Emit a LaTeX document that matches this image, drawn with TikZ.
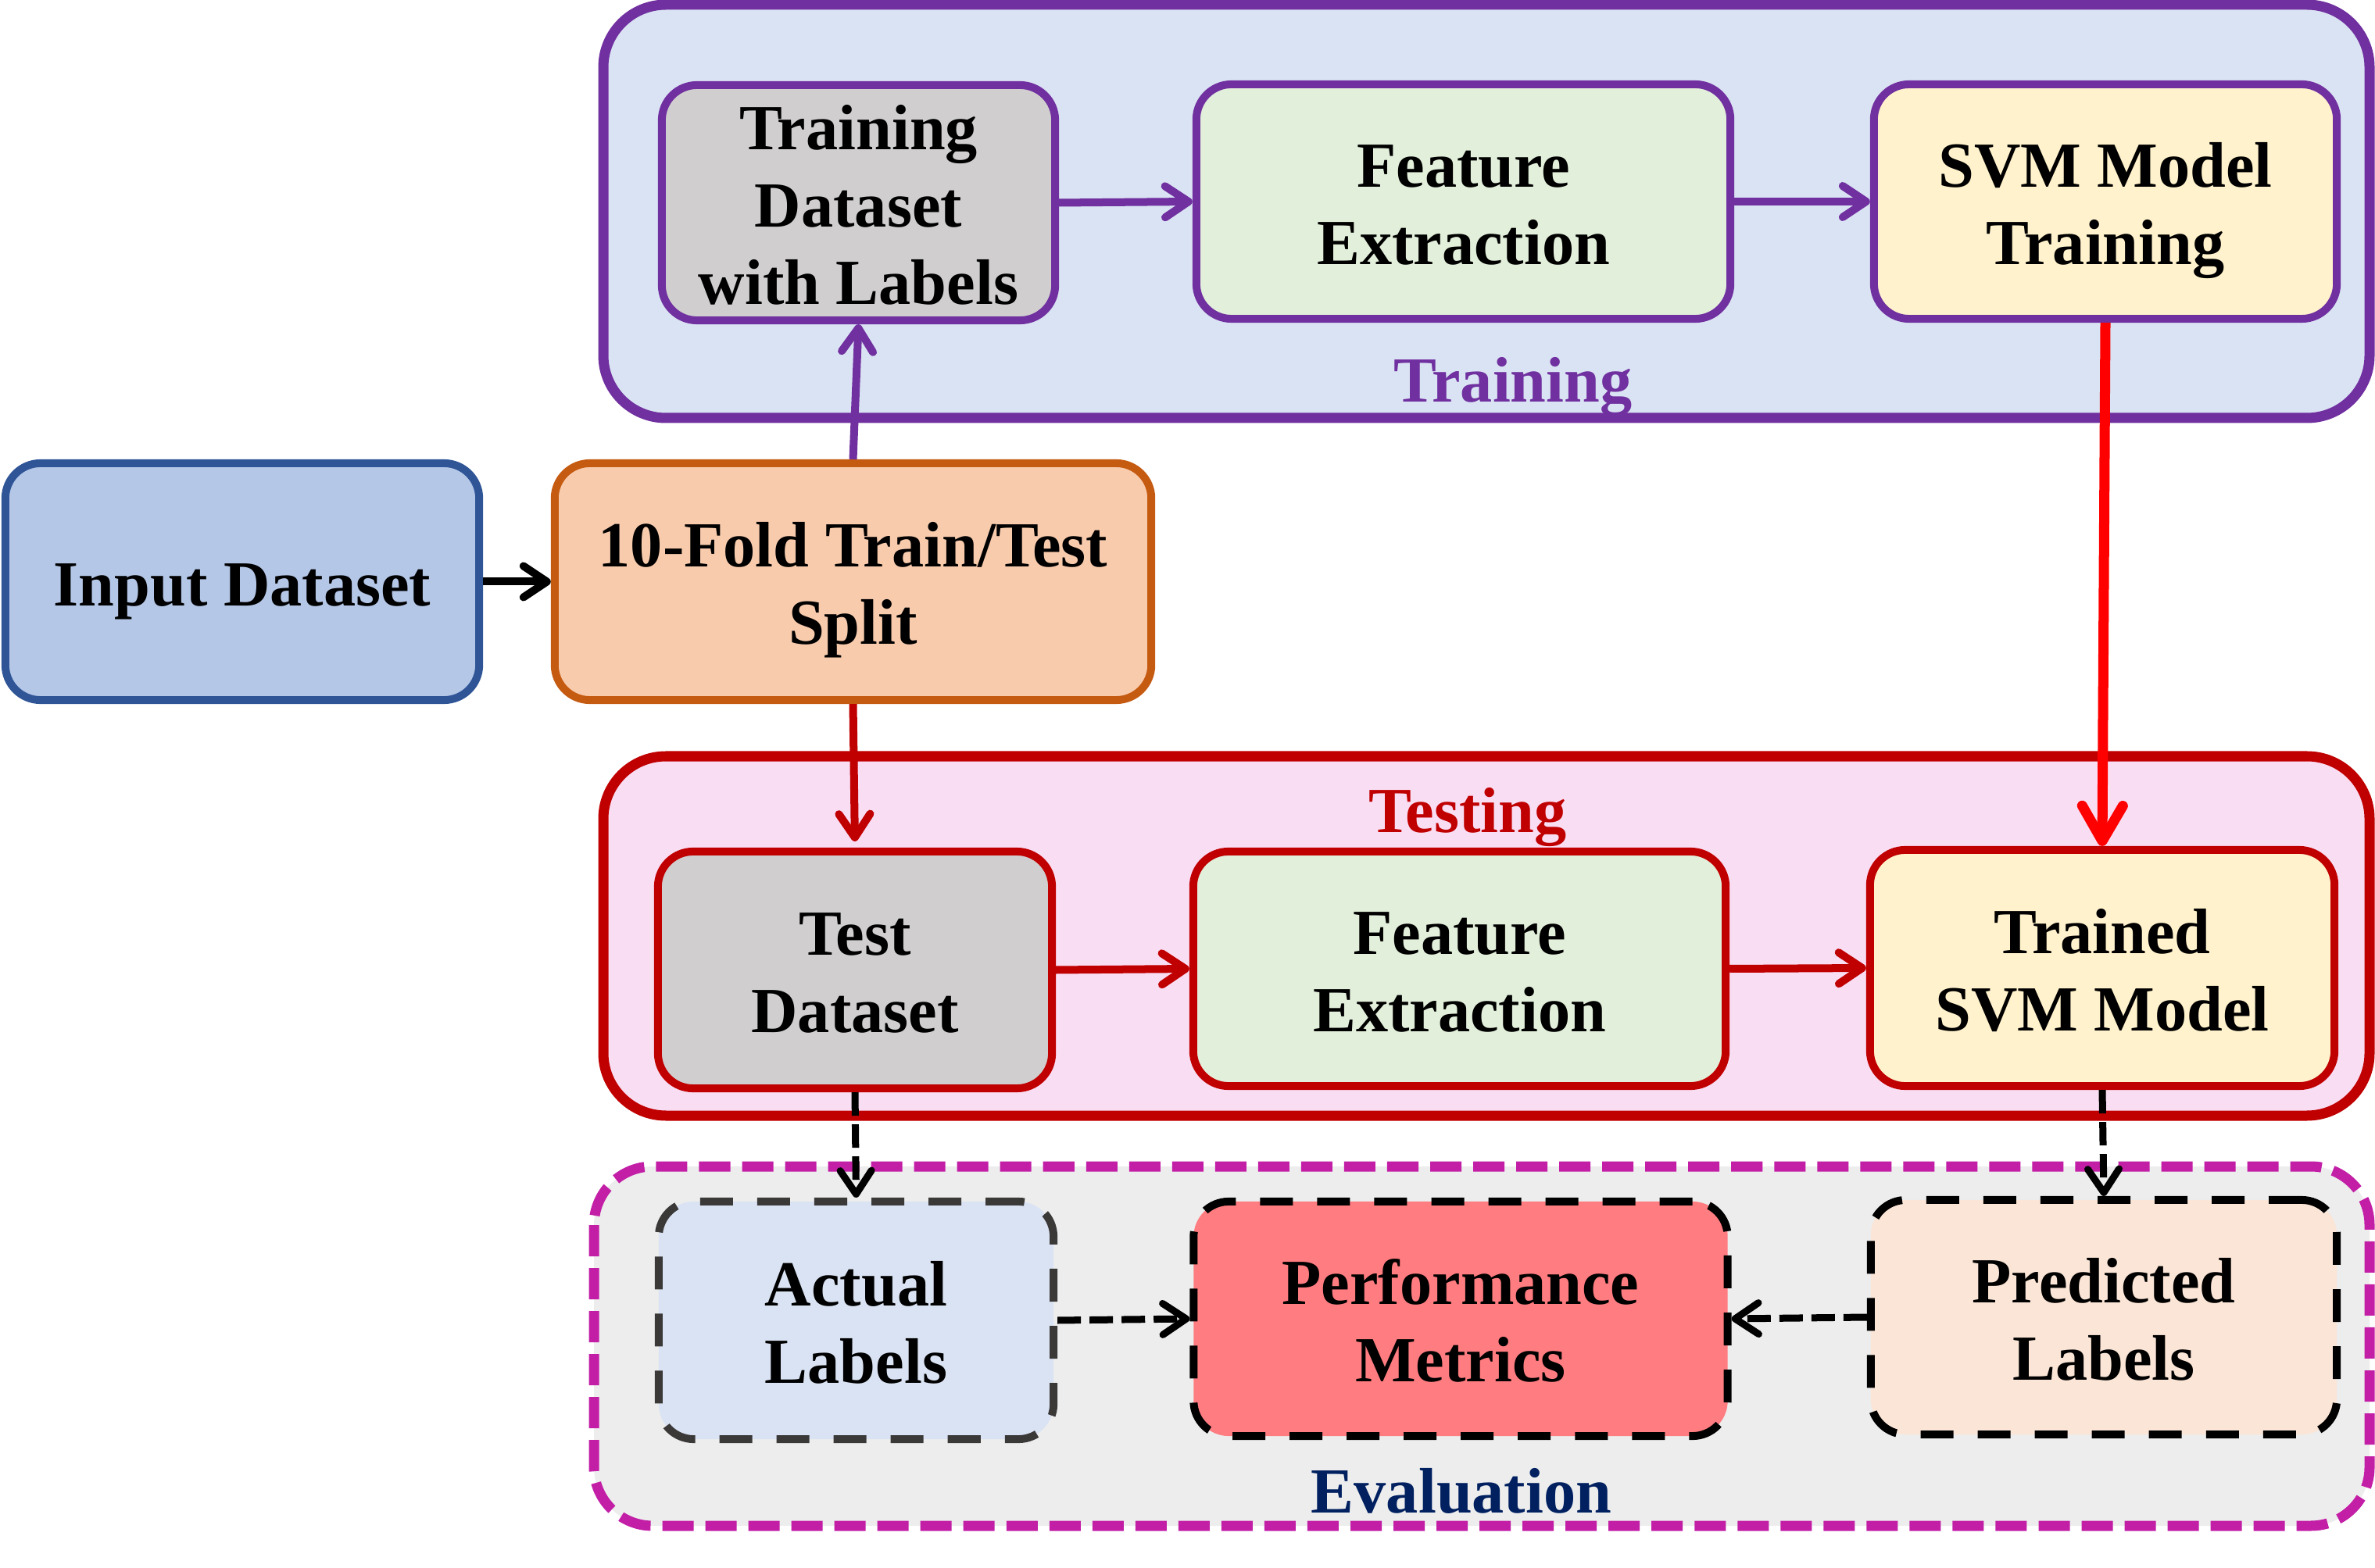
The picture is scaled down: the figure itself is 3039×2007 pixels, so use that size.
\documentclass[tikz,border=0pt]{standalone}
\usepackage{fontspec}
\setmainfont{Liberation Serif}
\usetikzlibrary{arrows.meta}
\definecolor{cpurple}{HTML}{7030A0}
\definecolor{cdred}{HTML}{C00000}
\definecolor{cred}{HTML}{FF0000}
\definecolor{cmag}{HTML}{C21FA6}
\definecolor{cnavy}{HTML}{002060}
\definecolor{fblue}{HTML}{DAE3F3}
\definecolor{fpink}{HTML}{F9DDF3}
\definecolor{fgrey}{HTML}{EDEDED}
\definecolor{fgray}{HTML}{D0CECE}
\definecolor{fgreen}{HTML}{E2EFDA}
\definecolor{fyellow}{HTML}{FFF2CC}
\definecolor{finput}{HTML}{B4C7E7}
\definecolor{binput}{HTML}{2F5597}
\definecolor{fsplit}{HTML}{F8CBAD}
\definecolor{bsplit}{HTML}{C55A11}
\definecolor{fperf}{HTML}{FF7C80}
\definecolor{fpred}{HTML}{FBE5D6}
\definecolor{bdgrey}{HTML}{3B3838}
\newcommand{\mlt}[1]{\raisebox{-0.11cm}[\height][\depth]{\begin{tabular}{@{}c@{}}#1\end{tabular}}}
\tikzset{
  txt/.style={font=\bfseries\fontsize{23.4pt}{28.2pt}\selectfont, text=black},
  box/.style={txt, rectangle, rounded corners=0.45cm, line width=0.1cm, inner sep=0pt},
  dbox/.style={box, dash pattern=on 0.42cm off 0.31cm},
  container/.style={rounded corners=0.8cm, line width=0.13cm},
  grplabel/.style={font=\bfseries\fontsize{23.4pt}{28.2pt}\selectfont, anchor=base},
  arr/.style={line width=0.1cm, -{Straight Barb[length=0.3cm,width=0.4cm,round]}},
  bigarr/.style={line width=0.13cm, -{Straight Barb[length=0.45cm,width=0.52cm,round]}},
  darr/.style={line width=0.09cm, black, dash pattern=on 0.3cm off 0.11cm, -{Straight Barb[length=0.3cm,width=0.4cm,round]}}
}
\begin{document}
\begin{tikzpicture}[x=0.01cm,y=-0.01cm]
\useasboundingbox (0,0) rectangle (3039,2007);
% containers
\draw[container, draw=cpurple, fill=fblue] (772,6) rectangle (3032,535);
\draw[container, draw=cdred, fill=fpink] (772,968) rectangle (3032,1428);
\draw[container, rounded corners=0.75cm, draw=cmag, fill=fgrey, dash pattern=on 0.4cm off 0.15cm] (760,1493) rectangle (3032,1953);
% group labels
\node[grplabel, text=cpurple] (lbltrain) at (1936,515) {Training};
\node[grplabel, text=cdred] (lbltest) at (1878,1065) {Testing};
\node[grplabel, text=cnavy] (lbleval) at (1870,1936) {Evaluation};
% nodes
\node[box, draw=binput, fill=finput, minimum width=6.06cm, minimum height=3.03cm] (input) at (310,744.5) {\mlt{Input Dataset}};
\node[box, draw=bsplit, fill=fsplit, minimum width=7.63cm, minimum height=3.03cm] (split) at (1091.5,744.5) {\mlt{10-Fold Train/Test\\Split}};
\node[box, draw=cpurple, fill=fgray, minimum width=5.03cm, minimum height=3.01cm] (trainds) at (1098.5,259.5) {\mlt{Training\\Dataset\\with Labels}};
\node[box, draw=cpurple, fill=fgreen, minimum width=6.83cm, minimum height=3.0cm] (feattr) at (1872.5,258) {\mlt{Feature\\Extraction}};
\node[box, draw=cpurple, fill=fyellow, minimum width=5.92cm, minimum height=3.0cm] (svmtr) at (2694,258) {\mlt{SVM Model\\Training}};
\node[box, draw=cdred, fill=fgray, minimum width=5.04cm, minimum height=3.03cm] (testds) at (1094,1241.5) {\mlt{Test\\Dataset}};
\node[box, draw=cdred, fill=fgreen, minimum width=6.81cm, minimum height=3.0cm] (featte) at (1867.5,1240) {\mlt{Feature\\Extraction}};
\node[box, draw=cdred, fill=fyellow, minimum width=5.94cm, minimum height=3.02cm] (trained) at (2690,1239) {\mlt{Trained\\SVM Model}};
\node[dbox, draw=bdgrey, fill=fblue, minimum width=5.05cm, minimum height=3.04cm] (actual) at (1095.5,1690) {\mlt{Actual\\Labels}};
\node[dbox, draw=black, fill=fperf, minimum width=6.83cm, minimum height=3.0cm] (perf) at (1869,1688) {\mlt{Performance\\Metrics}};
\node[dbox, draw=black, fill=fpred, minimum width=5.96cm, minimum height=3.0cm] (pred) at (2692,1686) {\mlt{Predicted\\Labels}};
% connectors
\draw[arr, black] (input.east) -- (split.west);
\draw[arr, cpurple] (split.north) -- (trainds.south);
\draw[arr, cpurple] (trainds.east) -- (feattr.west);
\draw[arr, cpurple] (feattr.east) -- (svmtr.west);
\draw[bigarr, cred] (svmtr.south) -- (trained.north);
\draw[arr, cdred, shorten >=0.08cm] (split.south) -- (testds.north);
\draw[arr, cdred] (testds.east) -- (featte.west);
\draw[arr, cdred] (featte.east) -- (trained.west);
\draw[darr] (testds.south) -- (actual.north);
\draw[darr] (trained.south) -- (pred.north);
\draw[darr] (actual.east) -- (perf.west);
\draw[darr] (pred.west) -- (perf.east);
\end{tikzpicture}
\end{document}
